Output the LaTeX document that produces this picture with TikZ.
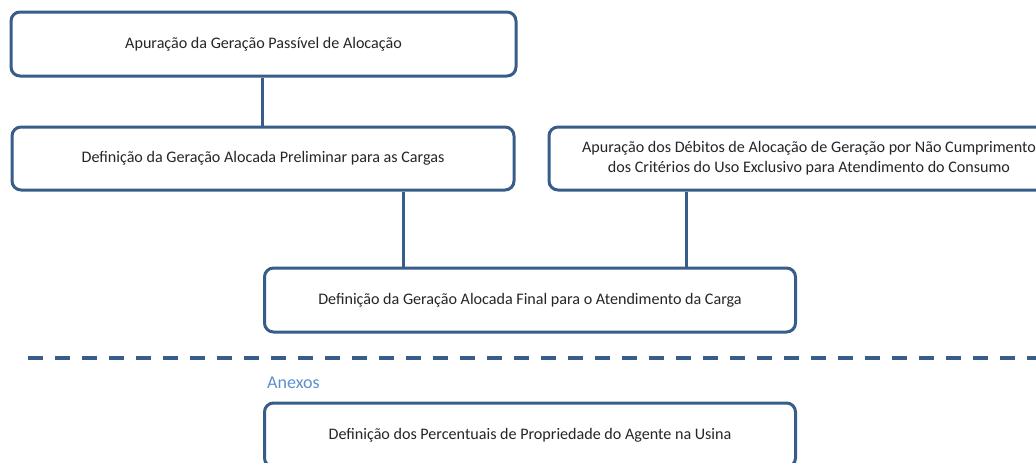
\documentclass[tikz,border=0pt]{standalone}
\usepackage{fontspec}
\setmainfont{Carlito}
\usepackage{tikz}

\definecolor{boxblue}{HTML}{385D8A}
\definecolor{anexblue}{HTML}{5B8FD0}

\begin{document}
\begin{tikzpicture}[x=1pt,y=-1pt,
    etapa/.style={draw=boxblue, line width=3pt, rounded corners=9pt, fill=white,
        align=center, font=\fontsize{16.1}{20}\selectfont, text=black!85, inner sep=0pt},
    liga/.style={draw=boxblue, line width=3pt},
]
    \useasboundingbox (0,0) rectangle (1036,463); % page size of the reference
    \node[etapa, minimum width=505pt, minimum height=64pt] (apur) at (263.5,44) {Apuração da Geração Passível de Alocação};
    \node[etapa, minimum width=502pt, minimum height=63pt] (prelim) at (263,158.5) {Definição da Geração Alocada Preliminar para as Cargas};
    \node[etapa, minimum width=520pt, minimum height=63pt] (debito) at (809,158.5) {Apuração dos Débitos de Alocação de Geração por Não Cumprimento\\dos Critérios do Uso Exclusivo para Atendimento do Consumo};
    \node[etapa, minimum width=531pt, minimum height=64pt] (final) at (530,300) {Definição da Geração Alocada Final para o Atendimento da Carga};
    \node[etapa, minimum width=531pt, minimum height=64pt] (percent) at (530,435) {Definição dos Percentuais de Propriedade do Agente na Usina};
    \node[anchor=west, font=\fontsize{18}{21}\selectfont, text=anexblue, inner sep=0pt] (anexos) at (267,383) {Anexos};

    \draw[liga] (apur.south -| 262,0) -- (prelim.north -| 262,0);
    \draw[liga] ([xshift=140pt]prelim.south) -- ([xshift=140pt]prelim.south |- final.north);
    \draw[liga] ([xshift=-123pt]debito.south) -- ([xshift=-123pt]debito.south |- final.north);

    % separation line before the annexes
    \coordinate (sepA) at (28,358);
    \coordinate (sepB) at (1060,358);
    \draw[boxblue, line width=3.5pt, dash pattern=on 15pt off 12pt] (sepA) -- (sepB);
\end{tikzpicture}
\end{document}
